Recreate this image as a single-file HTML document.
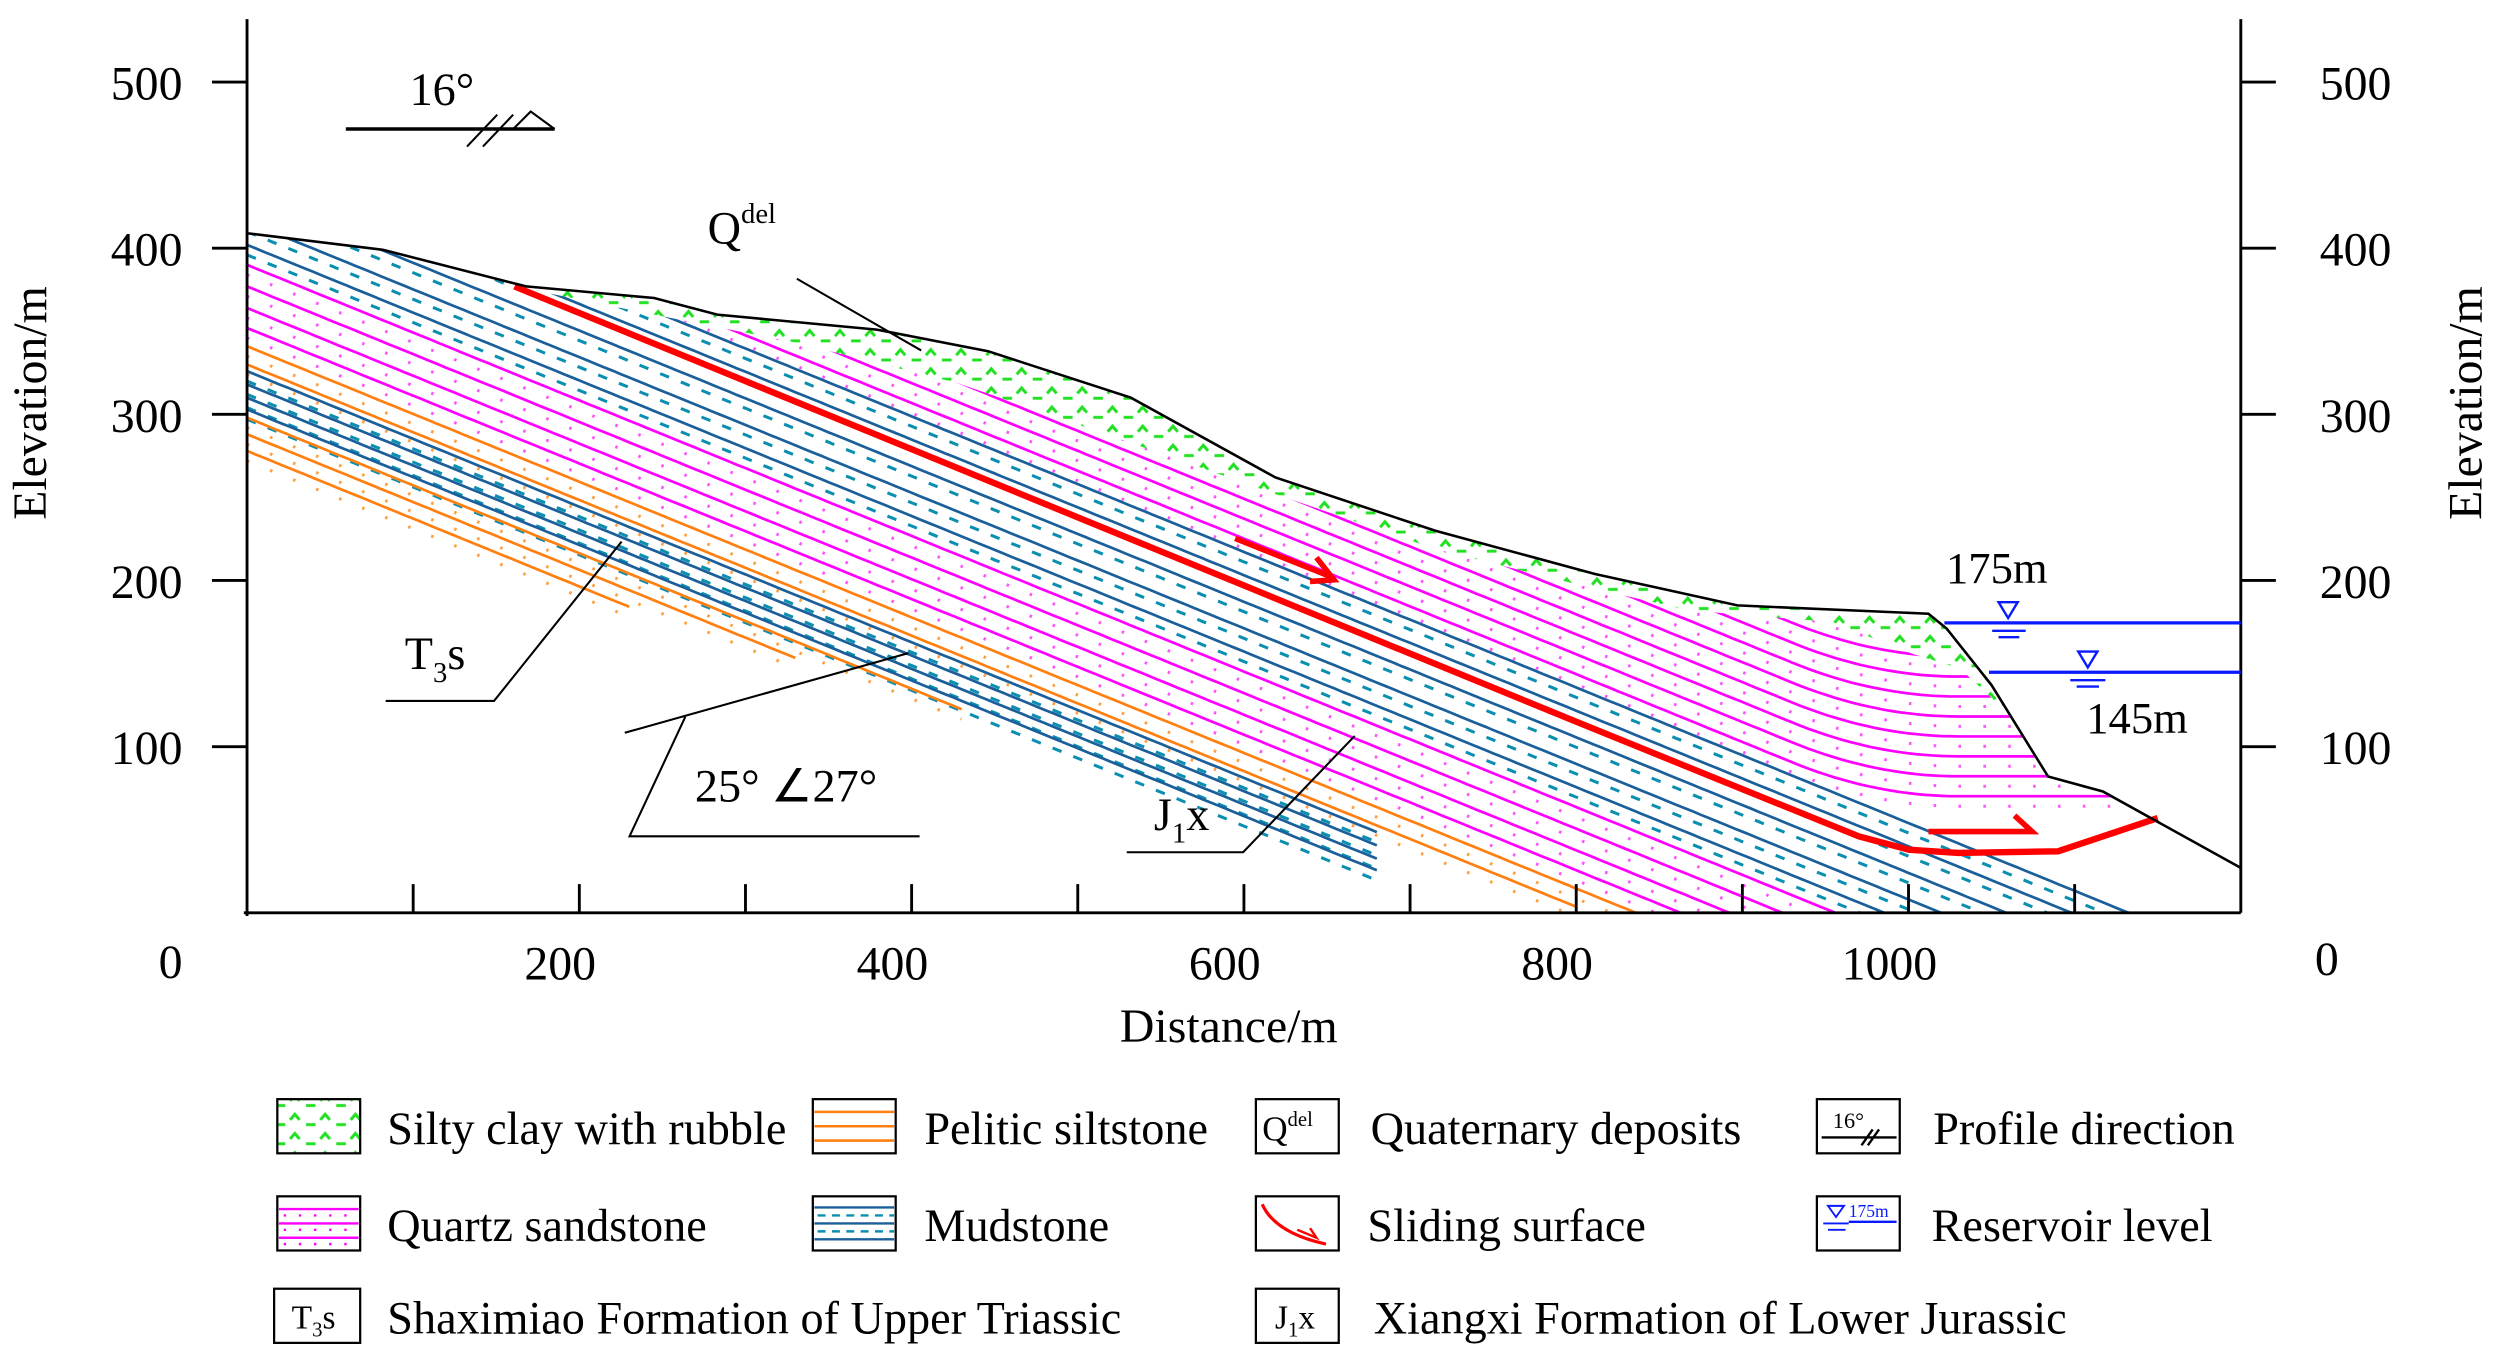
<!DOCTYPE html>
<html><head><meta charset="utf-8"><style>
html,body{margin:0;padding:0;background:#fff;}
svg{display:block;font-family:"Liberation Serif",serif;}
</style></head><body>
<svg id="chart" width="2499" height="1362" viewBox="0 0 1568 855" preserveAspectRatio="none" xmlns="http://www.w3.org/2000/svg">
<defs>
<pattern id="gp" patternUnits="userSpaceOnUse" width="19" height="12">
<path d="M2 10 L8 10 M11 7 L14 3.5 L17 7" stroke="#22e022" stroke-width="1.9" fill="none"/>
</pattern>
<clipPath id="gclip"><polygon id="clipPoly" points=""/></clipPath>
</defs>
<g id="geo" clip-path="url(#gclip)"></g>
<g id="over"></g>

<!-- axes -->
<g stroke="#000" stroke-width="1.8" fill="none">
<line x1="155" y1="12" x2="155" y2="575"/>
<line x1="153" y1="573" x2="1406" y2="573"/>
<line x1="1406" y1="12" x2="1406" y2="573"/>
</g>
<g id="ticks"></g>
<g font-size="30" fill="#000">
<text x="22" y="253" transform="rotate(-90 22 253)" text-anchor="middle" dominant-baseline="middle">Elevation/m</text>
<text x="1550" y="253" transform="rotate(-90 1550 253)" text-anchor="middle" dominant-baseline="middle">Elevation/m</text>
<text x="771" y="654" text-anchor="middle">Distance/m</text>
</g>

<!-- annotations -->
<g fill="#000" stroke="none" font-size="29">
<text x="257" y="66">16°</text>
<text x="444" y="153">Q<tspan font-size="18" dy="-13">del</tspan></text>
<text x="254" y="420">T<tspan font-size="18" dy="8">3</tspan><tspan dy="-8">s</tspan></text>
<text x="436" y="503">25° ∠27°</text>
<text x="724" y="521">J<tspan font-size="18" dy="8">1</tspan><tspan dy="-8">x</tspan></text>
<text x="1221" y="366" font-size="28">175m</text>
<text x="1309" y="460" font-size="28">145m</text>
</g>
<g stroke="#000" stroke-width="1.3" fill="none">
<line x1="217" y1="81" x2="348" y2="81" stroke-width="2.2"/>
<path d="M293 92 L312 72 M303 92 L322 72 M322 81 L333 70 L348 81"/>
<path d="M500 175 L578 220"/>
<path d="M242 440 L310 440 L390 340"/>
<path d="M392 460 L570 410 M430 450 L395 525 L577 525"/>
<path d="M707 535 L780 535 L850 462"/>
</g>
<!-- reservoir -->
<g stroke="#0a1aff" fill="none" stroke-width="2">
<line x1="1220" y1="391" x2="1406" y2="391"/>
<line x1="1248" y1="422" x2="1406" y2="422"/>
<path d="M1254 378 L1266 378 L1260 388 Z M1250 396 L1271 396 M1254 400 L1267 400" stroke-width="1.5"/>
<path d="M1304 409 L1316 409 L1310 419 Z M1299 427 L1321 427 M1303 431 L1317 431" stroke-width="1.5"/>
</g>

<!-- legend -->
<g font-size="29" fill="#000">
<g>
<rect x="174" y="690" width="52" height="34" fill="url(#gp)" stroke="#000" stroke-width="1.4"/>
<text x="243" y="718">Silty clay with rubble</text></g>
<g>
<rect x="510" y="690" width="52" height="34" fill="#fff" stroke="#000" stroke-width="1.4"/>
<path d="M511 698 H561 M511 707 H561 M511 716 H561" stroke="#ff7f10" stroke-width="1.6"/>
<text x="580" y="718">Pelitic siltstone</text></g>
<g>
<rect x="788" y="690" width="52" height="34" fill="#fff" stroke="#000" stroke-width="1.4"/>
<text x="792" y="716" font-size="22">Q<tspan font-size="13" dy="-9">del</tspan></text>
<text x="860" y="718">Quaternary deposits</text></g>
<g>
<rect x="1140" y="690" width="52" height="34" fill="#fff" stroke="#000" stroke-width="1.4"/>
<text x="1150" y="708" font-size="14">16°</text>
<path d="M1143 714 H1190 M1168 719 L1175 709 M1172 719 L1179 709" stroke="#000" stroke-width="1.5"/>
<text x="1213" y="718">Profile direction</text></g>
<g>
<rect x="174" y="751" width="52" height="34" fill="#fff" stroke="#000" stroke-width="1.4"/>
<path d="M175 759 H225 M175 768 H225 M175 777 H225" stroke="#f0f" stroke-width="1.5"/>
<path d="M178 763 H225 M178 772 H225 M178 781 H225" stroke="#f0f" stroke-width="1.5" stroke-dasharray="1.5 8"/>
<text x="243" y="779">Quartz sandstone</text></g>
<g>
<rect x="510" y="751" width="52" height="34" fill="#fff" stroke="#000" stroke-width="1.4"/>
<path d="M511 758 H561 M511 768 H561 M511 778 H561" stroke="#1a5f9a" stroke-width="1.5"/>
<path d="M513 763 H561 M513 773 H561" stroke="#0a8fb0" stroke-width="1.5" stroke-dasharray="5 4"/>
<text x="580" y="779">Mudstone</text></g>
<g>
<rect x="788" y="751" width="52" height="34" fill="#fff" stroke="#000" stroke-width="1.4"/>
<path d="M792 756 Q800 774 832 781" stroke="#f00" stroke-width="2" fill="none"/>
<path d="M814 772 L826 777 L822 771" stroke="#f00" stroke-width="1.5" fill="none"/>
<text x="858" y="779">Sliding surface</text></g>
<g>
<rect x="1140" y="751" width="52" height="34" fill="#fff" stroke="#000" stroke-width="1.4"/>
<path d="M1147 757 L1157 757 L1152 764 Z M1144 768 H1160 M1147 772 H1158" stroke="#0a1aff" stroke-width="1.2" fill="none"/>
<text x="1160" y="764" font-size="11" fill="#0a1aff">175m</text>
<line x1="1160" y1="767" x2="1190" y2="767" stroke="#0a1aff" stroke-width="1.5"/>
<text x="1212" y="779">Reservoir level</text></g>
<g>
<rect x="172" y="809" width="54" height="34" fill="#fff" stroke="#000" stroke-width="1.4"/>
<text x="183" y="834" font-size="21">T<tspan font-size="13" dy="5">3</tspan><tspan dy="-5">s</tspan></text>
<text x="243" y="837">Shaximiao Formation of Upper Triassic</text></g>
<g>
<rect x="788" y="809" width="52" height="34" fill="#fff" stroke="#000" stroke-width="1.4"/>
<text x="800" y="834" font-size="21">J<tspan font-size="13" dy="5">1</tspan><tspan dy="-5">x</tspan></text>
<text x="862" y="837">Xiangxi Formation of Lower Jurassic</text></g>
</g>

<script>
// ---- data (distance m, elevation m) ----
const groundD = [0, 82, 168, 245, 283, 379, 446, 532, 619, 715, 811, 897, 1012, 1023, 1050, 1084, 1117, 1200];
const groundE = [409, 399, 377, 370, 360, 351, 338, 310, 262, 230, 204, 185, 180, 171, 137, 82, 73, 27];
const slideD = [161, 400, 600, 800, 970, 1000, 1030, 1090, 1150];
const slideE = [377, 279, 197, 115, 46, 38, 36, 37, 57];
const greenLowD = [161, 235, 331, 427, 523, 619, 715, 811, 868, 954, 1002, 1031, 1060];
const greenLowE = [377, 362, 343, 319, 286, 252, 219, 195, 182, 175, 156, 147, 120];
// bedding lines: elevation intercept at distance 0, lithology, end distance
const layerC = [566, 554, 542, 530, 518, 506, 494, 482, 470, 462, 448, 432, 416, 402, 390, 377, 364, 352, 341, 330, 326, 318, 310, 303, 298, 288, 278];
const layerType = ['m','m','m','m','m','m','m','m','m','b','b','b','b','b','m','m','m','m','o','o','b','b','b','b','o','o','o'];
const layerEnd = [1200,1200,1200,1200,1200,1200,1200,1200,1200,1200,1200,1200,1200,1200,1200,1200,1200,1200,860,800,680,680,680,680,430,330,230];
const yTicks = [0, 100, 200, 300, 400, 500];
const yTickLabels = ['0', '100', '200', '300', '400', '500'];
const xTicks = [100, 200, 300, 400, 500, 600, 700, 800, 900, 1000, 1100];
const xLabelVals = [0, 200, 400, 600, 800, 1000];
const xLabelText = ['0', '200', '400', '600', '800', '1000'];
const dipSlope = 0.408;

const NS = 'http://www.w3.org/2000/svg';
const X = d => 155 + d * 1.0425;
const Y = e => 573 - e * 1.043;
function mk(tag, attrs, parent) {
  const el = document.createElementNS(NS, tag);
  for (const k in attrs) el.setAttribute(k, attrs[k]);
  parent.appendChild(el);
  return el;
}
const geo = document.getElementById('geo');
const over = document.getElementById('over');

let cp = groundD.map((d, i) => X(d) + ',' + Y(groundE[i]));
cp.push(X(1200) + ',' + Y(0), X(0) + ',' + Y(0));
document.getElementById('clipPoly').setAttribute('points', cp.join(' '));

mk('rect', {x: 0, y: 0, width: 1568, height: 855, fill: '#fff'}, geo);

const colors = {m: '#f0f', b: '#1a5f9a', o: '#ff7f10'};
const dotColors = {m: '#ff55ff', b: '#0a8fb0', o: '#ffa040'};
const FOLD = 930;
function lineE(c, d, fold) {
  if (!fold || d <= FOLD) return c - dipSlope * d;
  const t = Math.min(d - FOLD, 100);
  return c - dipSlope * FOLD - dipSlope * (t - t * t / 200);
}
function linePath(c, end, fold) {
  const pts = [];
  for (let d = 0; d <= end; d += 5) {
    const e = lineE(c, d, fold);
    if (e < -5) break;
    pts.push(X(d).toFixed(1) + ',' + Y(e).toFixed(1));
  }
  return 'M' + pts.join(' L');
}
layerC.forEach((c, i) => {
  const t = layerType[i];
  const fold = c >= 470;
  const ln = mk('path', {d: linePath(c, layerEnd[i], fold), stroke: colors[t], 'stroke-width': 1.7, fill: 'none'}, geo);
  
  
  const dash = t === 'b' ? '6 8' : '1.6 14';
  const dl = mk('path', {d: linePath(c - 6, layerEnd[i], fold), stroke: dotColors[t], 'stroke-width': 1.9, fill: 'none', 'stroke-dasharray': dash}, geo);
  
  
});

let gp = groundD.filter(d => d >= 150 && d <= 1060).map(d => X(d) + ',' + Y(groundE[groundD.indexOf(d)]));
for (let i = greenLowD.length - 1; i >= 0; i--) gp.push(X(greenLowD[i]) + ',' + Y(greenLowE[i]));
const gz = mk('polygon', {points: gp.join(' '), fill: '#fff', stroke: 'none'}, geo);


const gz2 = mk('polygon', {points: gp.join(' '), fill: 'url(#gp)', stroke: 'none'}, geo);



const sp = mk('path', {d: 'M' + slideD.map((d, i) => X(d) + ',' + Y(slideE[i])).join(' L'), stroke: '#f00', 'stroke-width': 4, fill: 'none', 'stroke-linejoin': 'round'}, over);


const a1 = mk('path', {d: 'M775 338 L835 362 M826 350 L837 364 L822 365', stroke: '#f00', 'stroke-width': 3.5, fill: 'none'}, over);


const a2 = mk('path', {d: 'M1210 522 L1275 522 L1264 512', stroke: '#f00', 'stroke-width': 3.5, fill: 'none'}, over);



const go = mk('path', {d: 'M' + groundD.map((d, i) => X(d) + ',' + Y(groundE[i])).join(' L'), stroke: '#000', 'stroke-width': 1.6, fill: 'none'}, over);



const tk = document.getElementById('ticks');
yTicks.forEach((v, i) => {
  if (v > 0) {
    const l1 = mk('path', {d: `M133 ${Y(v)} H155 M1406 ${Y(v)} H1428`, stroke: '#000', 'stroke-width': 1.8}, tk);
    
    
  }
  const ty = v === 0 ? 614 : Y(v) + 11;
  const t1 = mk('text', {x: v === 0 ? 107 : 92, y: ty, 'text-anchor': 'middle', 'font-size': 30}, tk);
  t1.textContent = yTickLabels[i];
  
  
  const t2 = mk('text', {x: v === 0 ? 1460 : 1478, y: ty - (v === 0 ? 2 : 0), 'text-anchor': 'middle', 'font-size': 30}, tk);
  t2.textContent = yTickLabels[i];
  
  
});
xTicks.forEach(v => {
  const l = mk('line', {x1: X(v), y1: 555, x2: X(v), y2: 573, stroke: '#000', 'stroke-width': 1.8}, tk);
  
  
});
xLabelVals.forEach((v, i) => {
  if (v === 0) return;
  const t = mk('text', {x: X(v) - 12, y: 615, 'text-anchor': 'middle', 'font-size': 30}, tk);
  t.textContent = xLabelText[i];
  
  
});
</script>
</svg>
</body></html>
